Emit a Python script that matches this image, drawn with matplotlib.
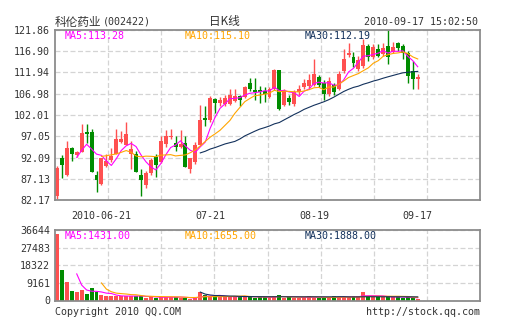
import matplotlib
matplotlib.use("Agg")
import matplotlib.pyplot as plt
import numpy as np
import pandas as pd

# 科伦药业 002422, daily bars 2010-06-03 .. 2010-09-17
dates = [
    '2010-06-03', '2010-06-04', '2010-06-07', '2010-06-08', '2010-06-09', '2010-06-10',
    '2010-06-11', '2010-06-17', '2010-06-18', '2010-06-21', '2010-06-22', '2010-06-23',
    '2010-06-24', '2010-06-25', '2010-06-28', '2010-06-29', '2010-06-30', '2010-07-01',
    '2010-07-02', '2010-07-05', '2010-07-06', '2010-07-07', '2010-07-08', '2010-07-09',
    '2010-07-12', '2010-07-13', '2010-07-14', '2010-07-15', '2010-07-16', '2010-07-19',
    '2010-07-20', '2010-07-21', '2010-07-22', '2010-07-23', '2010-07-26', '2010-07-27',
    '2010-07-28', '2010-07-29', '2010-07-30', '2010-08-02', '2010-08-03', '2010-08-04',
    '2010-08-05', '2010-08-06', '2010-08-09', '2010-08-10', '2010-08-11', '2010-08-12',
    '2010-08-13', '2010-08-16', '2010-08-17', '2010-08-18', '2010-08-19', '2010-08-20',
    '2010-08-23', '2010-08-24', '2010-08-25', '2010-08-26', '2010-08-27', '2010-08-30',
    '2010-08-31', '2010-09-01', '2010-09-02', '2010-09-03', '2010-09-06', '2010-09-07',
    '2010-09-08', '2010-09-09', '2010-09-10', '2010-09-13', '2010-09-14', '2010-09-15',
    '2010-09-16', '2010-09-17',
]

opens = [83.2, 92.0, 87.9, 94.2, 92.6, 93.4, 98.1, 98.1, 87.9, 86.0,
         90.1, 91.4, 92.8, 95.7, 95.1, 92.8, 93.0, 88.1, 85.7, 88.5,
         92.2, 91.0, 95.3, 96.8, 95.5, 94.6, 95.5, 89.4, 91.0, 95.0,
         101.3, 100.8, 105.8, 104.8, 104.5, 104.5, 105.3, 106.4, 106.2, 109.5,
         107.9, 107.9, 107.6, 106.3, 108.0, 112.5, 104.4, 105.9, 104.5, 107.4,
         108.5, 108.8, 109.1, 110.8, 109.5, 107.0, 109.0, 108.2, 112.2, 116.0,
         115.6, 112.7, 113.4, 118.1, 115.5, 117.5, 116.2, 118.1, 116.8, 118.8,
         118.2, 116.6, 112.3, 110.5]
highs = [90.0, 92.6, 95.9, 94.5, 93.5, 99.8, 100.0, 98.7, 88.9, 92.0,
         92.9, 94.2, 98.7, 98.3, 100.4, 96.0, 93.6, 89.3, 89.0, 92.0,
         92.8, 97.2, 98.5, 98.8, 97.0, 98.5, 97.0, 91.5, 95.8, 104.3,
         104.0, 106.5, 106.0, 106.2, 106.6, 108.1, 108.1, 106.8, 108.7, 110.6,
         110.6, 108.8, 108.5, 108.6, 112.8, 112.5, 108.0, 106.8, 107.8, 109.1,
         110.5, 111.5, 115.1, 111.3, 110.1, 110.9, 109.5, 112.4, 117.5, 118.9,
         116.8, 115.8, 119.7, 118.5, 118.6, 118.5, 118.8, 121.86, 119.0, 119.0,
         118.5, 117.0, 114.7, 111.5]
lows = [82.3, 87.2, 87.7, 91.2, 92.1, 93.4, 95.5, 88.7, 84.0, 85.7,
        89.9, 91.0, 92.8, 95.5, 95.1, 89.3, 88.7, 83.0, 85.0, 88.0,
        87.5, 90.8, 94.5, 96.5, 93.5, 94.2, 89.8, 88.5, 90.6, 95.0,
        99.5, 100.3, 102.5, 104.0, 104.0, 104.3, 105.0, 104.1, 106.0, 107.7,
        105.5, 104.8, 105.0, 106.0, 107.8, 103.2, 104.0, 104.4, 104.1, 106.8,
        108.0, 108.3, 108.9, 108.5, 105.5, 106.5, 106.8, 107.9, 111.8, 115.6,
        113.2, 112.3, 113.0, 114.7, 115.0, 115.6, 115.8, 114.0, 116.4, 116.9,
        115.0, 109.5, 108.0, 108.0]
closes = [89.6, 90.4, 94.3, 92.8, 93.4, 97.9, 97.5, 88.7, 86.9, 92.0,
          91.2, 92.4, 96.5, 96.5, 97.5, 94.0, 88.7, 86.8, 88.5, 91.6,
          90.3, 96.0, 97.0, 97.2, 94.5, 95.3, 89.8, 92.0, 95.0, 100.8,
          100.8, 106.0, 104.8, 105.5, 106.0, 106.8, 106.4, 105.6, 108.5, 108.1,
          107.5, 107.3, 107.0, 108.2, 112.5, 103.4, 107.7, 105.1, 107.5, 108.0,
          109.5, 110.3, 111.5, 109.1, 107.0, 109.9, 107.4, 111.6, 115.0, 116.4,
          114.2, 114.8, 118.3, 115.6, 117.8, 115.8, 117.6, 115.5, 117.9, 117.6,
          116.4, 111.2, 110.4, 110.8]
volumes = [34500, 16000, 9600, 4800, 4400, 5300, 3300, 6400, 4500, 2700,
           2300, 2400, 2300, 2300, 2300, 2200, 2500, 2500, 1200, 1900,
           1300, 1900, 1900, 1900, 1800, 1400, 1300, 900, 1300, 4400,
           2900, 2100, 2100, 1800, 2100, 1900, 2200, 1900, 2500, 1600,
           1500, 1600, 1900, 1700, 2300, 2900, 1500, 1800, 1300, 1500,
           1800, 2300, 1500, 1500, 1500, 1400, 2300, 2000, 1900, 1600,
           2200, 2100, 4300, 2390, 1700, 1900, 1800, 2395, 1600, 1700,
           1500, 1655, 1300, 1000]

price_ticks = [82.17, 87.13, 92.09, 97.05, 102.01, 106.98, 111.94, 116.90, 121.86]
vol_ticks = [0, 9161, 18322, 27483, 36644]
tick_dates = ['2010-06-21', '2010-07-21', '2010-08-19', '2010-09-17']
tick_labels = ['2010-06-21', '07-21', '08-19', '09-17']
ma_periods = [5, 10, 30]

RED = '#FF5050'
GREEN = '#008C00'
MA_COLORS = ['#FF00FF', '#FFA500', '#13315C']
GRID = '#D4D4D4'
FRAME = '#8C8C8C'
TXT = '#333333'
MONO = 'DejaVu Sans Mono'
CJK = 'Noto Sans CJK SC'
FS = 7.2

W, H = 505, 330
fig = plt.figure(figsize=(W / 100, H / 100), dpi=100)
fig.patch.set_facecolor('white')

# pixel boxes of the two panels
ax = fig.add_axes([55 / W, (H - 200) / H, 425 / W, 170 / H])
axv = fig.add_axes([55 / W, (H - 300.5) / H, 425 / W, 70.3 / H])

x = np.arange(len(dates))
o = np.array(opens)
c = np.array(closes)
hi = np.array(highs)
lo = np.array(lows)
vol = np.array(volumes)
colors = np.where(c >= o, RED, GREEN)

xmin, xmax = -0.4, 85.6

for a in (ax, axv):
    a.set_xlim(xmin, xmax)
    a.set_xticks(np.linspace(xmin, xmax, 9)[1:-1], minor=True)
    a.grid(True, which='minor', axis='x', color=GRID, ls=(0, (4, 2)), lw=0.9)
    a.grid(True, which='major', axis='y', color=GRID, ls=(0, (4, 2)), lw=0.9)
    a.set_axisbelow(True)
    for s in a.spines.values():
        s.set_color(FRAME)
        s.set_linewidth(1.3)
    a.tick_params(which='both', length=0, labelsize=FS, labelcolor=TXT, pad=3.6)

# candles
ax.vlines(x, lo, hi, colors=colors, lw=1)
body = np.maximum(np.abs(c - o), 0.22)
ax.bar(x, body, bottom=np.minimum(o, c), width=0.8, color=colors, linewidth=0)

close_s = pd.Series(closes)
vol_s = pd.Series(volumes)
for p, col in zip(ma_periods, MA_COLORS):
    ax.plot(x, close_s.rolling(p).mean(), color=col, lw=0.8)
    axv.plot(x, vol_s.rolling(p).mean(), color=col, lw=0.8)

ax.set_ylim(price_ticks[0], price_ticks[-1])
ax.set_yticks(price_ticks)
ax.set_yticklabels(['%.2f' % v for v in price_ticks], family=MONO)

pos = [dates.index(d) for d in tick_dates]
ax.set_xticks(pos)
ax.set_xticklabels(tick_labels, family=MONO)
ax.tick_params(axis='x', which='major', pad=8)

# volume bars
axv.bar(x, vol, width=0.8, color=colors, linewidth=0)
axv.set_ylim(vol_ticks[0], vol_ticks[-1])
axv.set_yticks(vol_ticks)
axv.set_yticklabels([str(v) for v in vol_ticks], family=MONO)
axv.set_xticks([])

# MA legends
leg_x = [0.0235, 0.306, 0.588]
for p, col, lx in zip(ma_periods, MA_COLORS, leg_x):
    ma_p = close_s.rolling(p).mean().iloc[-1]
    ma_v = vol_s.rolling(p).mean().iloc[-1]
    ax.text(lx, 0.962, 'MA%d:%.2f' % (p, ma_p), transform=ax.transAxes,
            color=col, fontsize=FS, family=MONO, va='center', ha='left')
    axv.text(lx, 0.918, 'MA%d:%.2f' % (p, ma_v), transform=axv.transAxes,
             color=col, fontsize=FS, family=MONO, va='center', ha='left')

# header / footer
def fy(ypx):
    return 1 - ypx / H

fig.text(55 / W, fy(22), '科伦药业', family=[CJK], fontsize=8.4, color=TXT, va='center')
fig.text(103 / W, fy(22), '(002422)', family=MONO, fontsize=FS, color=TXT, va='center')
fig.text(224 / W, fy(22), '日K线', family=[CJK], fontsize=8.4, color=TXT, va='center', ha='center')
fig.text(478 / W, fy(22), '2010-09-17 15:02:50', family=MONO, fontsize=FS, color=TXT,
         va='center', ha='right')
fig.text(55 / W, fy(312), 'Copyright 2010 QQ.COM', family=MONO, fontsize=FS, color=TXT, va='center')
fig.text(480 / W, fy(312), 'http://stock.qq.com', family=MONO, fontsize=FS, color=TXT,
         va='center', ha='right')

fig.savefig('out.png', dpi=100, facecolor='white')
